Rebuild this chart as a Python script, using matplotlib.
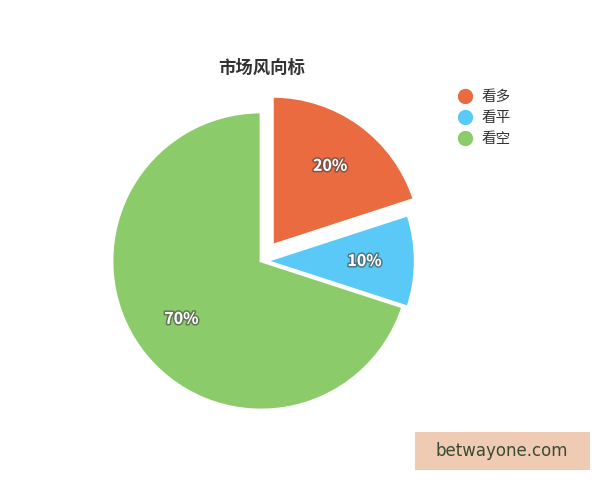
import matplotlib
matplotlib.use("Agg")
import matplotlib.pyplot as plt
import matplotlib.patheffects as pe
from matplotlib.lines import Line2D
from matplotlib.patches import Rectangle

plt.rcParams['font.family'] = ['Noto Sans CJK SC', 'DejaVu Sans']

title = "市场风向标"
categories = ["看多", "看平", "看空"]
values = [20, 10, 70]
colors = ["#E96B3F", "#5BC9F7", "#8BCB69"]
explode = [0.13, 0.035, 0.0]
watermark = "betwayone.com"

W, H = 600, 480
fig = plt.figure(figsize=(6, 4.8), dpi=100)
ax = fig.add_axes([0, 0, 1, 1])

R = 149.0
cx, cy = 261.0, 480 - 261.0

wedges, texts, autotexts = ax.pie(
    values, colors=colors, explode=explode, startangle=90, counterclock=False,
    autopct='%d%%', pctdistance=0.66, radius=1.0,
    wedgeprops=dict(edgecolor='white', linewidth=2),
    textprops=dict(color='white', fontsize=11.5, fontweight='bold'))
for t in autotexts:
    t.set_path_effects([pe.withStroke(linewidth=2.2, foreground=(0.25, 0.25, 0.25, 0.6))])

ax.set_xlim(-cx / R, (W - cx) / R)
ax.set_ylim(-cy / R, (H - cy) / R)
ax.set_aspect('auto')
ax.axis('off')

fig.text(262 / W, 1 - 68 / H, title, ha='center', va='center', fontsize=12.5,
         fontweight='bold', color='#333333')

handles = [Line2D([0], [0], marker='o', linestyle='none', markersize=10,
                  markerfacecolor=c, markeredgecolor=c) for c in colors]
fig.legend(handles, categories, loc='upper left',
           bbox_to_anchor=(458 / W, 1 - 90 / H), frameon=False,
           borderaxespad=0, borderpad=0, handlelength=1.0, handletextpad=0.6,
           labelspacing=0.48, fontsize=10.5, labelcolor='#333333')

fig.patches.append(Rectangle((415 / W, 1 - 470 / H), 175 / W, 38 / H,
                             transform=fig.transFigure, facecolor='#F0CBB4',
                             edgecolor='none', zorder=5))
fig.text(502 / W, 1 - 451 / H, watermark, ha='center', va='center', fontsize=12,
         color='#3B4A32', family=['DejaVu Sans'], zorder=6)

fig.savefig("out.png", dpi=100, facecolor='white')
